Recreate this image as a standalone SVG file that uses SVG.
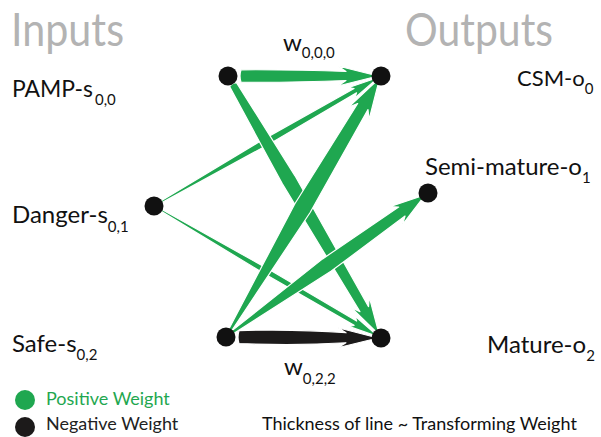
<svg xmlns="http://www.w3.org/2000/svg" width="601" height="437" viewBox="0 0 601 437">
<style>
.h{font-family:Lato,"Open Sans",sans-serif;fill:#b3b3b3;font-size:46px}
.l{font-family:Lato,"Open Sans",sans-serif;fill:#111;font-size:24px}
.s{font-family:Lato,"Open Sans",sans-serif;fill:#111;font-size:15px}
.lg{font-family:Lato,"Open Sans",sans-serif;font-size:18px}
.g{fill:#1fa750;stroke:#fff;stroke-width:1.2;stroke-linejoin:round}
.k{fill:#1c1a1a;stroke:#fff;stroke-width:1.2;stroke-linejoin:round}
.n{fill:#111}
</style>
<rect width="601" height="437" fill="#fff"/>
<text class="h" x="11" y="46" textLength="113" lengthAdjust="spacingAndGlyphs">Inputs</text>
<text class="h" x="405" y="46" textLength="148" lengthAdjust="spacingAndGlyphs">Outputs</text>
<g id="connectors">
<path id="e_d_csm" class="g" transform="translate(154,206) rotate(-29.8)" d="M7,-1 L130,-3.5 L232,-2.5 L228,-6 L259,0 L228,6 L232,2.5 L130,3.5 L7,1 Z"/>
<path id="e_d_mat" class="g" transform="translate(154,206) rotate(30.2)" d="M7,-1 L130,-3 L233,-2.5 L229,-6 L260,0 L229,6 L233,2.5 L130,3 L7,1 Z"/>
<path id="e_p_csm" class="g" transform="translate(228,76)" d="M13,-6.2 Q70,-6.5 118,-4.5 L110,-10 L150,0 L110,10 L118,4.5 Q70,6.5 13,6.2 Q11,0 13,-6.2 Z"/>
<path id="e_p_mat" class="g" transform="translate(228,76) rotate(59.7)" d="M10,-4 L120,-7.5 L270,-5 L262,-10.5 L300,0 L262,10.5 L270,5 L120,7.5 L10,4 Q8,0 10,-4 Z"/>
<path id="e_s_csm" class="g" transform="translate(226,337) rotate(-59.3)" d="M5,-1.5 L150,-8.8 L268,-6 L260,-12 L301,0 L260,12 L268,6 L150,8.8 L5,1.5 Z"/>
<path id="e_s_semi" class="g" transform="translate(226,337) rotate(-35.5)" d="M5,-1.5 L124,-7.5 L216,-5.5 L209,-11 L245,0 L209,11 L216,5.5 L124,7.5 L5,1.5 Z"/>
<path id="e_s_mat" class="k" transform="translate(226,337) rotate(0.37)" d="M13,-6.5 Q70,-8.5 120,-5 L112,-10 L152,0 L112,10 L120,5 Q70,8.5 13,6.5 Q11,0 13,-6.5 Z"/>
<path class="g" stroke="none" d="M213.5,344 L216.5,340.5 L217,341.5 L214.5,344.5 Z"/>
</g>
<g id="n_pamp"><circle class="n" cx="228" cy="76" r="9.5"/><text class="l" x="12" y="97" textLength="81" lengthAdjust="spacingAndGlyphs">PAMP-s</text><text class="s" x="95" y="105">0,0</text></g>
<g id="n_danger"><circle class="n" cx="154" cy="206" r="9.5"/><text class="l" x="12" y="223">Danger-s<tspan class="s" dy="9">0,1</tspan></text></g>
<g id="n_safe"><circle class="n" cx="226" cy="337" r="9.5"/><text class="l" x="12" y="352">Safe-s<tspan class="s" dy="8">0,2</tspan></text></g>
<g id="n_csm"><circle class="n" cx="381" cy="76" r="9.5"/><text class="l" x="517" y="86" style="font-size:22px">CSM-o<tspan class="s" dy="8">0</tspan></text></g>
<g id="n_semi"><circle class="n" cx="428" cy="193" r="9.5"/><text class="l" x="425" y="175">Semi-mature-o<tspan class="s" dy="8">1</tspan></text></g>
<g id="n_mature"><circle class="n" cx="381" cy="338" r="9.5"/><text class="l" x="487" y="353">Mature-o<tspan class="s" dy="8">2</tspan></text></g>
<text class="l" x="283" y="51">w<tspan class="s" dy="7">0,0,0</tspan></text>
<text class="l" x="284" y="375">w<tspan class="s" dy="9">0,2,2</tspan></text>
<g id="legend">
<circle cx="25" cy="400" r="10" fill="#1fa750"/>
<text class="lg" x="46" y="405" fill="#1fa750">Positive Weight</text>
<circle cx="25" cy="427" r="10" fill="#1c1a1a"/>
<text class="lg" x="46" y="430" fill="#222">Negative Weight</text>
<text class="lg" x="262" y="430" fill="#111">Thickness of line ~ Transforming Weight</text>
</g>
</svg>
